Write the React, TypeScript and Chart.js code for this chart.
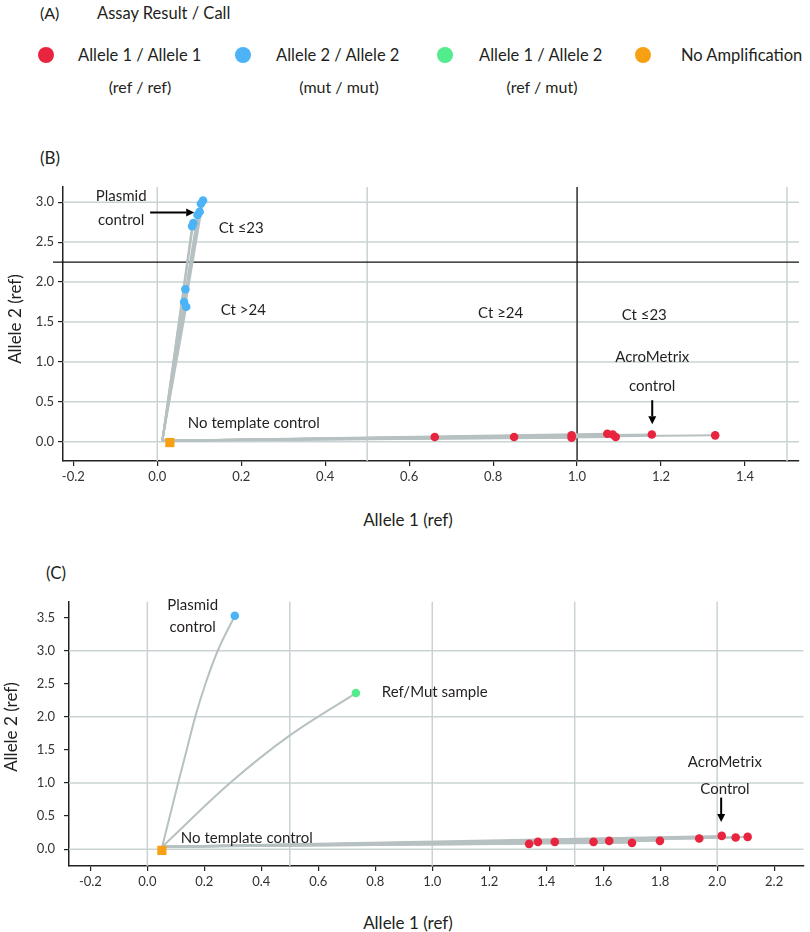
import React, { useEffect, useRef } from "react";
import { Chart, registerables } from "chart.js";
Chart.register(...registerables);

const FONT = "Lato, 'Open Sans', sans-serif";
const INK = "#231f20";
const RED = "#e8243f";
const BLUE = "#4cb3f7";
const GREEN = "#52ec8c";
const ORANGE = "#f8a013";
const TRACE = "#b7c1c1";
const GRID = "#c9d3d3";

// ---- (A) legend ----
const legendLabels = ["Allele 1 / Allele 1", "Allele 2 / Allele 2", "Allele 1 / Allele 2", "No Amplification"];
const legendSubs = ["(ref / ref)", "(mut / mut)", "(ref / mut)", ""];
const legendColors = [RED, BLUE, GREEN, ORANGE];

// ---- (B) ----
const bXTicks = [-0.2, 0, 0.2, 0.4, 0.6, 0.8, 1.0, 1.2, 1.4];
const bYTicks = [0, 0.5, 1, 1.5, 2, 2.5, 3];
const bGridX = [0, 0.5, 1.0, 1.5];
const bGridY = [0, 0.5, 1, 1.5, 2, 2.5, 3];
const bOrigin = [0.012, 0.012];
const bMutX = [0.109, 0.104, 0.101, 0.096, 0.086, 0.083, 0.067, 0.064, 0.069];
const bMutY = [3.02, 2.98, 2.88, 2.84, 2.74, 2.7, 1.91, 1.75, 1.69];
const bRefX = [0.661, 0.85, 0.987, 0.987, 1.072, 1.085, 1.092, 1.178, 1.329];
const bRefY = [0.06, 0.06, 0.08, 0.05, 0.1, 0.09, 0.06, 0.09, 0.08];
const bNtcX = [0.03];
const bNtcY = [-0.01];
const bCutX = 1.0;
const bCutY = 2.25;
const bNotes = [
  { text: "Plasmid", x: -0.086, y: 3.07 },
  { text: "control", x: -0.086, y: 2.78 },
  { text: "Ct \u226423", x: 0.2, y: 2.67 },
  { text: "Ct >24", x: 0.205, y: 1.65 },
  { text: "No template control", x: 0.23, y: 0.23 },
  { text: "Ct \u226524", x: 0.818, y: 1.61 },
  { text: "Ct \u226423", x: 1.16, y: 1.58 },
  { text: "AcroMetrix", x: 1.179, y: 1.06 },
  { text: "control", x: 1.179, y: 0.69 },
];
const bArrows = [
  { x1: -0.017, y1: 2.87, x2: 0.088, y2: 2.87 },
  { x1: 1.179, y1: 0.52, x2: 1.179, y2: 0.22 },
];

// ---- (C) ----
const cXTicks = [-0.2, 0, 0.2, 0.4, 0.6, 0.8, 1.0, 1.2, 1.4, 1.6, 1.8, 2.0, 2.2];
const cYTicks = [0, 0.5, 1, 1.5, 2, 2.5, 3, 3.5];
const cGridX = [0, 0.5, 1, 1.5, 2];
const cGridY = [0, 1, 2, 3];
const cOrigin = [0.052, 0.035];
const cMutCurveX = [0.052, 0.108, 0.138, 0.168, 0.204, 0.247, 0.307];
const cMutCurveY = [0.035, 1.0, 1.5, 2.0, 2.5, 3.0, 3.53];
const cHetCurveX = [0.052, 0.29, 0.5, 0.732];
const cHetCurveY = [0.035, 1.0, 1.72, 2.36];
const cRefX = [1.34, 1.371, 1.43, 1.566, 1.621, 1.701, 1.799, 1.937, 2.016, 2.065, 2.107];
const cRefY = [0.08, 0.11, 0.11, 0.11, 0.125, 0.095, 0.125, 0.16, 0.2, 0.175, 0.185];
const cNtcX = [0.051];
const cNtcY = [-0.02];
const cNotes = [
  { text: "Plasmid", x: 0.159, y: 3.69 },
  { text: "control", x: 0.159, y: 3.35 },
  { text: "Ref/Mut sample", x: 0.823, y: 2.37, align: "left" },
  { text: "No template control", x: 0.349, y: 0.16 },
  { text: "AcroMetrix", x: 2.027, y: 1.31 },
  { text: "Control", x: 2.027, y: 0.9 },
];
const cArrows = [{ x1: 2.014, y1: 0.78, x2: 2.014, y2: 0.41 }];

type Note = { text: string; x: number; y: number; align?: string };
type Arrow = { x1: number; y1: number; x2: number; y2: number };

const pts = (xs: number[], ys: number[]) => xs.map((x, i) => ({ x, y: ys[i] }));

function overlay(cfg: {
  gridX: number[];
  gridY: number[];
  cutX?: number;
  cutY?: number;
  notes: Note[];
  arrows: Arrow[];
}) {
  return {
    id: "overlay",
    beforeDatasetsDraw(chart: any) {
      const { ctx, chartArea: a, scales } = chart;
      const x = scales.x, y = scales.y;
      ctx.save();
      ctx.strokeStyle = GRID;
      ctx.lineWidth = 1.5;
      cfg.gridX.forEach((v) => {
        const p = x.getPixelForValue(v);
        ctx.beginPath(); ctx.moveTo(p, a.top); ctx.lineTo(p, a.bottom); ctx.stroke();
      });
      cfg.gridY.forEach((v) => {
        const p = y.getPixelForValue(v);
        ctx.beginPath(); ctx.moveTo(a.left, p); ctx.lineTo(a.right, p); ctx.stroke();
      });
      ctx.strokeStyle = "#111";
      ctx.lineWidth = 1.2;
      if (cfg.cutX != null) {
        const p = x.getPixelForValue(cfg.cutX);
        ctx.beginPath(); ctx.moveTo(p, a.top); ctx.lineTo(p, a.bottom); ctx.stroke();
      }
      if (cfg.cutY != null) {
        const p = y.getPixelForValue(cfg.cutY);
        ctx.beginPath(); ctx.moveTo(a.left - 10, p); ctx.lineTo(a.right, p); ctx.stroke();
      }
      ctx.restore();
    },
    afterDatasetsDraw(chart: any) {
      const { ctx, scales } = chart;
      const x = scales.x, y = scales.y;
      ctx.save();
      ctx.fillStyle = INK;
      ctx.font = `15px ${FONT}`;
      ctx.textBaseline = "middle";
      cfg.notes.forEach((n) => {
        ctx.textAlign = (n.align as CanvasTextAlign) || "center";
        ctx.fillText(n.text, x.getPixelForValue(n.x), y.getPixelForValue(n.y));
      });
      ctx.strokeStyle = "#000";
      ctx.fillStyle = "#000";
      ctx.lineWidth = 2;
      cfg.arrows.forEach((ar) => {
        const x1 = x.getPixelForValue(ar.x1), y1 = y.getPixelForValue(ar.y1);
        const x2 = x.getPixelForValue(ar.x2), y2 = y.getPixelForValue(ar.y2);
        const ang = Math.atan2(y2 - y1, x2 - x1);
        const hl = 8, hw = 4;
        const bx = x2 - hl * Math.cos(ang), by = y2 - hl * Math.sin(ang);
        ctx.beginPath(); ctx.moveTo(x1, y1); ctx.lineTo(bx, by); ctx.stroke();
        ctx.beginPath();
        ctx.moveTo(x2, y2);
        ctx.lineTo(bx + hw * Math.sin(ang), by - hw * Math.cos(ang));
        ctx.lineTo(bx - hw * Math.sin(ang), by + hw * Math.cos(ang));
        ctx.closePath(); ctx.fill();
      });
      ctx.restore();
    },
  };
}

function axis(ticks: number[], min: number, max: number, size: number, horizontal: boolean, pad: number) {
  return {
    type: "linear",
    min,
    max,
    afterBuildTicks: (s: any) => { s.ticks = ticks.map((value) => ({ value })); },
    afterFit: (s: any) => { if (horizontal) s.height = size; else s.width = size; },
    grid: { drawOnChartArea: false, drawTicks: true, tickLength: 5, color: "#222", lineWidth: 1.2 },
    border: { display: true, color: "#222", width: 1.5 },
    ticks: {
      color: "#333",
      font: { family: FONT, size: 13 },
      padding: pad,
      autoSkip: false,
      maxRotation: 0,
      callback: (v: any) => Number(v).toFixed(1),
    },
  };
}

const line = (data: { x: number; y: number }[], curved = false, width = 2) => ({
  data,
  showLine: true,
  pointRadius: 0,
  borderColor: TRACE,
  borderWidth: width,
  cubicInterpolationMode: curved ? "monotone" : "default",
  tension: 0,
  order: 2,
});

const dots = (data: { x: number; y: number }[], color: string) => ({
  data,
  backgroundColor: color,
  borderWidth: 0,
  pointRadius: 4.3,
  order: 0,
});

const square = (data: { x: number; y: number }[]) => ({
  data,
  backgroundColor: ORANGE,
  borderWidth: 0,
  pointStyle: "rect",
  pointRadius: 6.5,
  order: 0,
});

function PanelB() {
  const ref = useRef<HTMLCanvasElement>(null);
  useEffect(() => {
    const o = { x: bOrigin[0], y: bOrigin[1] };
    const datasets: any[] = [
      dots(pts(bMutX, bMutY), BLUE),
      dots(pts(bRefX, bRefY), RED),
      square(pts(bNtcX, bNtcY)),
      ...pts(bMutX, bMutY).map((p) => line([o, p])),
      ...pts(bRefX, bRefY).map((p) => line([o, p])),
    ];
    const chart = new Chart(ref.current!, {
      type: "scatter",
      data: { datasets },
      options: {
        responsive: false,
        animation: false,
        layout: { padding: { top: 17, right: 11, bottom: 0, left: 0 } },
        plugins: { legend: { display: false }, tooltip: { enabled: false } },
        scales: {
          x: axis(bXTicks, -0.2245, 1.5286, 29, true, 3) as any,
          y: axis(bYTicks, -0.241, 3.19, 63, false, 4) as any,
        },
      },
      plugins: [overlay({ gridX: bGridX, gridY: bGridY, cutX: bCutX, cutY: bCutY, notes: bNotes, arrows: bArrows })],
    });
    return () => chart.destroy();
  }, []);
  return <canvas ref={ref} width={810} height={320} style={{ position: "absolute", left: 0, top: 170, display: "block" }} />;
}

function PanelC() {
  const ref = useRef<HTMLCanvasElement>(null);
  useEffect(() => {
    const o = { x: cOrigin[0], y: cOrigin[1] };
    const datasets: any[] = [
      dots([{ x: cMutCurveX[cMutCurveX.length - 1], y: cMutCurveY[cMutCurveY.length - 1] }], BLUE),
      dots([{ x: cHetCurveX[cHetCurveX.length - 1], y: cHetCurveY[cHetCurveY.length - 1] }], GREEN),
      dots(pts(cRefX, cRefY), RED),
      square(pts(cNtcX, cNtcY)),
      line(pts(cMutCurveX, cMutCurveY), true),
      line(pts(cHetCurveX, cHetCurveY), true),
      ...pts(cRefX, cRefY).map((p) => line([o, p])),
    ];
    const chart = new Chart(ref.current!, {
      type: "scatter",
      data: { datasets },
      options: {
        responsive: false,
        animation: false,
        layout: { padding: { top: 15, right: 3, bottom: 0, left: 0 } },
        plugins: { legend: { display: false }, tooltip: { enabled: false } },
        scales: {
          x: axis(cXTicks, -0.275, 2.303, 39, true, 3) as any,
          y: axis(cYTicks, -0.255, 3.74, 69, false, 9) as any,
        },
      },
      plugins: [overlay({ gridX: cGridX, gridY: cGridY, notes: cNotes, arrows: cArrows })],
    });
    return () => chart.destroy();
  }, []);
  return <canvas ref={ref} width={810} height={320} style={{ position: "absolute", left: 0, top: 585, display: "block" }} />;
}

function Txt(props: { x: number; y: number; text: string; size: number; anchor?: "left" | "center"; rotate?: boolean }) {
  const { x, y, text, size, anchor = "center", rotate } = props;
  const tx = anchor === "center" ? "-50%" : "0";
  return (
    <div
      style={{
        position: "absolute",
        left: x,
        top: y,
        transform: `translate(${tx}, -50%)${rotate ? " rotate(-90deg)" : ""}`,
        fontSize: size,
        lineHeight: 1,
        whiteSpace: "nowrap",
        color: INK,
      }}
    >
      {text}
    </div>
  );
}

const dotX = [46, 243, 445, 643];
const labelX = [78, 276, 479, 681];
const subX = [140, 339, 542, 0];

export default function App() {
  return (
    <div style={{ position: "absolute", left: 0, top: 0, width: 810, height: 932, fontFamily: FONT, background: "#fff", overflow: "hidden" }}>
      <Txt x={40} y={13} text="(A)" size={16} anchor="left" />
      <Txt x={97} y={13} text="Assay Result / Call" size={16.5} anchor="left" />
      {legendLabels.map((l, i) => (
        <React.Fragment key={l}>
          <div style={{ position: "absolute", left: dotX[i] - 8, top: 55 - 8, width: 16, height: 16, borderRadius: "50%", background: legendColors[i] }} />
          <Txt x={labelX[i]} y={55} text={l} size={16.5} anchor="left" />
          {legendSubs[i] ? <Txt x={subX[i]} y={87} text={legendSubs[i]} size={16} /> : null}
        </React.Fragment>
      ))}
      <Txt x={40} y={157} text="(B)" size={17} anchor="left" />
      <Txt x={46} y={572} text="(C)" size={17} anchor="left" />
      <PanelB />
      <PanelC />
      <Txt x={14} y={319} text="Allele 2 (ref)" size={17} rotate />
      <Txt x={408} y={519} text="Allele 1 (ref)" size={17} />
      <Txt x={10} y={727} text="Allele 2 (ref)" size={17} rotate />
      <Txt x={408} y={922} text="Allele 1 (ref)" size={17} />
    </div>
  );
}
